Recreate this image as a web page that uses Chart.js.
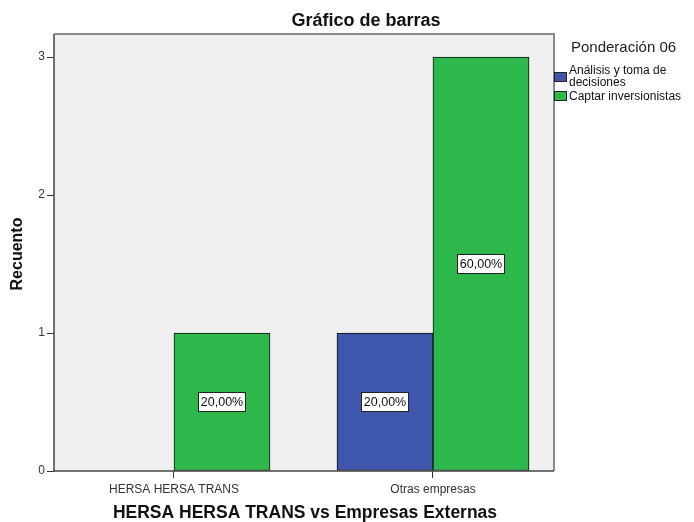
<!DOCTYPE html>
<html>
<head>
<meta charset="utf-8">
<script src="https://cdn.jsdelivr.net/npm/chart.js@4.4.0/dist/chart.umd.min.js"></script>
<style>
html,body{margin:0;padding:0;background:#fff;}
#wrap{position:relative;width:694px;height:522px;}
</style>
</head>
<body>
<div id="wrap"><canvas id="c" width="694" height="522"></canvas></div>
<script>
const categories = ["HERSA HERSA TRANS", "Otras empresas"];
const seriesNames = ["Análisis y toma de decisiones", "Captar inversionistas"];
const legendLines = [["Análisis y toma de", "decisiones"], ["Captar inversionistas"]];
const analisisValues = [0, 1];
const captarValues = [1, 3];
const yTicks = [0, 1, 2, 3];
const chartTitle = "Gráfico de barras";
const xTitle = "HERSA HERSA TRANS vs Empresas Externas";
const yTitle = "Recuento";
const legendTitle = "Ponderación 06";
const colors = ["#3e57ac", "#2eb74b"];

const FONT = "'Liberation Sans', Arial, sans-serif";
const total = analisisValues.concat(captarValues).reduce((a, b) => a + b, 0);

function toPoints(vals) { return vals.map((v, i) => ({ x: i, y: v })); }

const decor = {
  id: 'decor',
  beforeDraw(chart) {
    const { ctx, chartArea: a } = chart;
    ctx.save();
    ctx.fillStyle = '#f0f0f0';
    ctx.fillRect(a.left, a.top, a.right - a.left, a.bottom - a.top);
    ctx.restore();
  },
  afterDatasetsDraw(chart) {
    const { ctx, chartArea: a } = chart;
    ctx.save();
    // frame
    ctx.strokeStyle = '#8a8a8a';
    ctx.lineWidth = 2;
    ctx.beginPath();
    ctx.moveTo(a.left, a.top); ctx.lineTo(a.right, a.top); ctx.lineTo(a.right, a.bottom);
    ctx.stroke();
    ctx.strokeStyle = '#444';
    ctx.lineWidth = 1.5;
    ctx.beginPath();
    ctx.moveTo(a.left, a.top); ctx.lineTo(a.left, a.bottom); ctx.lineTo(a.right, a.bottom);
    ctx.stroke();

    // value labels
    ctx.font = "12.5px " + FONT;
    ctx.textAlign = 'center';
    ctx.textBaseline = 'middle';
    chart.data.datasets.forEach((ds, di) => {
      const meta = chart.getDatasetMeta(di);
      meta.data.forEach((bar, i) => {
        const v = ds.data[i].y;
        if (!v) return;
        const txt = (v / total * 100).toFixed(2).replace('.', ',') + '%';
        const cx = bar.x;
        const cy = (bar.y + bar.base) / 2;
        const w = Math.round(ctx.measureText(txt).width + 5);
        const h = 19;
        const x0 = Math.round(cx - w / 2) + 0.5, y0 = Math.round(cy - h / 2) + 0.5;
        ctx.fillStyle = '#fff';
        ctx.fillRect(x0, y0, w, h);
        ctx.strokeStyle = '#222';
        ctx.lineWidth = 1;
        ctx.strokeRect(x0, y0, w, h);
        ctx.fillStyle = '#111';
        ctx.fillText(txt, cx, cy + 1);
      });
    });

    // titles
    ctx.fillStyle = '#111';
    ctx.textAlign = 'center';
    ctx.textBaseline = 'middle';
    ctx.font = "bold 18px " + FONT;
    ctx.fillText(chartTitle, 366, 21);
    ctx.font = "bold 17.5px " + FONT;
    ctx.fillText(xTitle, (a.left + a.right) / 2 + 1, 513);
    ctx.save();
    ctx.translate(18, 254);
    ctx.rotate(-Math.PI / 2);
    ctx.font = "bold 16px " + FONT;
    ctx.fillText(yTitle, 0, 0);
    ctx.restore();

    // legend
    ctx.textAlign = 'left';
    ctx.textBaseline = 'middle';
    ctx.fillStyle = '#222';
    ctx.font = "15px " + FONT;
    ctx.fillText(legendTitle, 571, 48);
    ctx.font = "12px " + FONT;
    const boxY = [72, 91];
    const textY = [[71, 83], [97]];
    legendLines.forEach((lines, i) => {
      ctx.fillStyle = colors[i];
      ctx.fillRect(554.5, boxY[i] + 0.5, 12, 9);
      ctx.strokeStyle = '#222';
      ctx.lineWidth = 1;
      ctx.strokeRect(554.5, boxY[i] + 0.5, 12, 9);
      ctx.fillStyle = '#111';
      lines.forEach((l, j) => ctx.fillText(l, 569, textY[i][j]));
    });
    ctx.restore();
  }
};

new Chart(document.getElementById('c'), {
  type: 'bar',
  data: {
    datasets: [
      { label: seriesNames[0], data: toPoints(analisisValues), backgroundColor: colors[0], borderColor: '#111', borderWidth: 1, borderSkipped: false },
      { label: seriesNames[1], data: toPoints(captarValues), backgroundColor: colors[1], borderColor: '#111', borderWidth: 1, borderSkipped: false }
    ]
  },
  plugins: [decor],
  options: {
    responsive: false,
    animation: false,
    devicePixelRatio: 1,
    barThickness: 96,
    layout: { padding: { top: 34, right: 140, left: 0, bottom: 0 } },
    plugins: { legend: { display: false }, tooltip: { enabled: false }, title: { display: false } },
    scales: {
      x: {
        type: 'linear',
        offset: false,
        min: -0.4633,
        max: 1.4672,
        afterBuildTicks: s => { s.ticks = categories.map((c, i) => ({ value: i })); },
        afterFit: s => { s.height = 51; },
        ticks: { callback: (v, i) => categories[i], font: { size: 12, family: FONT }, color: '#333', padding: 4, maxRotation: 0, autoSkip: false },
        grid: { offset: false, drawOnChartArea: false, drawTicks: true, tickLength: 7, color: '#333' },
        border: { display: false }
      },
      y: {
        min: 0,
        max: 3.167,
        afterBuildTicks: s => { s.ticks = yTicks.map(v => ({ value: v })); },
        afterFit: s => { s.width = 54; },
        ticks: { font: { size: 12, family: FONT }, color: '#333', padding: 2 },
        grid: { drawOnChartArea: false, drawTicks: true, tickLength: 7, color: '#333' },
        border: { display: false }
      }
    }
  }
});
</script>
</body>
</html>
